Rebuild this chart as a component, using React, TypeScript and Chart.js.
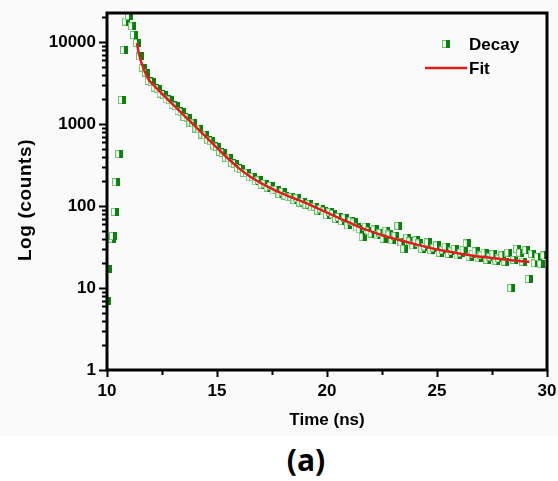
import React, { useEffect, useRef } from 'react';
import { Chart, registerables } from 'chart.js';

Chart.register(...registerables);

// ---- Data ----
const decayTime = [
  10.0, 10.05, 10.23, 10.27, 10.36, 10.41, 10.55, 10.68, 10.77, 10.86, 11.0, 11.14, 11.23, 11.36,
  11.5, 11.63, 11.77, 11.9, 12.04, 12.17, 12.31, 12.44, 12.58, 12.71, 12.85, 12.98, 13.12, 13.25,
  13.39, 13.52, 13.66, 13.79, 13.93, 14.06, 14.2, 14.33, 14.47, 14.6, 14.74, 14.87, 15.01, 15.14,
  15.28, 15.41, 15.55, 15.68, 15.82, 15.95, 16.09, 16.22, 16.36, 16.49, 16.63, 16.76, 16.9, 17.03,
  17.17, 17.3, 17.44, 17.57, 17.71, 17.84, 17.98, 18.11, 18.25, 18.38, 18.52, 18.65, 18.79, 18.92,
  19.06, 19.19, 19.33, 19.46, 19.6, 19.73, 19.87,
  20.0, 20.14, 20.27, 20.41, 20.54, 20.68, 20.81, 20.95,
  21.08, 21.22, 21.35, 21.49, 21.62, 21.76, 21.89,
  22.03, 22.16, 22.3, 22.43, 22.57, 22.7, 22.84, 22.97,
  23.11, 23.24, 23.38, 23.51, 23.65, 23.78, 23.92,
  24.05, 24.19, 24.32, 24.46, 24.59, 24.73, 24.86,
  25.0, 25.13, 25.27, 25.4, 25.54, 25.67, 25.81, 25.94,
  26.08, 26.21, 26.35, 26.48, 26.62, 26.75, 26.89,
  27.02, 27.16, 27.29, 27.43, 27.56, 27.7, 27.83, 27.97,
  28.1, 28.24, 28.37, 28.51, 28.64, 28.78, 28.91,
  29.05, 29.18, 29.32, 29.45, 29.59, 29.72, 29.86,
];

const decayCounts = [
  7, 17, 40, 43, 85, 195, 430, 1960, 7960, 17800, 20750, 15600, 12170, 9720,
  6700, 4850, 4250, 3350, 3250, 2780, 2700, 2350, 2290, 2000, 1950, 1700, 1660, 1440,
  1400, 1220, 1200, 1040, 1015, 880, 860, 745, 730, 632, 618, 537, 525, 456,
  447, 388, 381, 333, 328, 287, 285, 253, 252, 223, 226, 200, 205, 181,
  188, 168, 176, 155, 158, 139, 150, 134, 128, 129, 118, 124, 110, 113,
  104, 105, 96, 98, 88, 93, 86,
  77, 84, 80, 70, 73, 65, 72, 58,
  66, 63, 55, 52, 42, 56, 50,
  46, 52, 44, 47, 40, 50, 45, 38,
  43, 57, 36, 30, 41, 37, 33,
  38, 35, 30, 32, 36, 29, 31,
  33, 27, 29, 32, 26, 28, 30, 25,
  27, 29, 35, 24, 26, 28, 23,
  25, 27, 22, 24, 26, 21.5, 23, 25,
  21, 27, 10, 22, 30, 27, 21,
  29, 12.9, 26, 20, 24, 19.5, 25,
];

const fitTime = [
  11.36, 11.45, 11.55, 11.7, 11.9, 12.2, 12.5, 12.8, 13.2, 13.6, 14.0, 14.5, 15.0, 15.5,
  16.0, 16.5, 17.0, 17.5, 18.0, 18.5, 19.0, 19.5, 20.0, 20.5, 21.0, 21.5, 22.0, 22.5,
  23.0, 23.5, 24.0, 24.5, 25.0, 25.5, 26.0, 26.5, 27.0, 27.5, 28.0, 28.5, 29.0, 29.2,
];

const fitCounts = [
  9700, 7240, 5750, 4470, 3470, 2820, 2340, 1950, 1530, 1200, 944, 695, 513, 380,
  288, 229, 190, 162, 141, 124, 110, 95.5, 83, 72, 63, 55, 49, 44,
  40.3, 37.2, 34.3, 31.6, 29.5, 27.9, 26.3, 25.1, 24, 23.2, 22.4, 21.6, 21.1, 20.9,
];

const seriesLabels = ['Decay', 'Fit'];
const xMajorTicks = [10, 15, 20, 25, 30];
const xMinorTicks = [12.5, 17.5, 22.5, 27.5];
const yMajorTicks = [1, 10, 100, 1000, 10000];
const xRange = [10, 30];
const yRange = [1, 22600];
const xTitle = 'Time (ns)';
const yTitle = 'Log (counts)';
const panelLabel = '(a)';

const FONT = "'Liberation Sans', Arial, sans-serif";
const DARK_GREEN = '#0c7f0c';
const LIGHT_GREEN = '#6cc46c';
const RED = '#e31b1b';

function makeMarker(): HTMLCanvasElement {
  const c = document.createElement('canvas');
  c.width = 8;
  c.height = 8;
  const g = c.getContext('2d')!;
  g.fillStyle = '#f4fff4';
  g.fillRect(0, 0, 8, 8);
  g.strokeStyle = LIGHT_GREEN;
  g.lineWidth = 1;
  g.strokeRect(0.5, 0.5, 7, 7);
  g.fillStyle = DARK_GREEN;
  g.fillRect(4, 0, 4, 8);
  return c;
}

export default function App() {
  const canvasRef = useRef<HTMLCanvasElement | null>(null);

  useEffect(() => {
    if (!canvasRef.current) return;
    const marker = makeMarker();

    const decorPlugin = {
      id: 'decor',
      afterDraw(chart: any) {
        const { ctx, chartArea: a, scales } = chart;
        ctx.save();
        ctx.strokeStyle = '#000';
        ctx.lineCap = 'butt';
        // y ticks
        ctx.lineWidth = 2;
        for (const t of scales.y.ticks) {
          const py = Math.round(scales.y.getPixelForValue(t.value)) + 0.5;
          const major = yMajorTicks.includes(t.value);
          const len = major ? 8 : 5;
          ctx.beginPath();
          ctx.moveTo(a.left - len, py);
          ctx.lineTo(a.left, py);
          ctx.stroke();
        }
        // x ticks
        for (const v of [...xMajorTicks, ...xMinorTicks]) {
          const px = Math.round(scales.x.getPixelForValue(v)) + 0.5;
          const major = xMajorTicks.includes(v);
          const len = major ? 7 : 5;
          ctx.beginPath();
          ctx.moveTo(px, a.bottom);
          ctx.lineTo(px, a.bottom + len);
          ctx.stroke();
        }
        // frame
        ctx.lineWidth = 3;
        ctx.strokeRect(a.left, a.top, a.right - a.left, a.bottom - a.top);

        // y title
        ctx.fillStyle = '#000';
        ctx.font = `bold 19px ${FONT}`;
        (ctx as any).letterSpacing = '0.6px';
        ctx.translate(26, 200);
        ctx.rotate(-Math.PI / 2);
        ctx.textAlign = 'center';
        ctx.textBaseline = 'middle';
        ctx.fillText(yTitle, 0, 0);
        ctx.restore();

        // legend
        ctx.save();
        ctx.drawImage(marker, 442, 40);
        ctx.strokeStyle = RED;
        ctx.lineWidth = 2.5;
        ctx.beginPath();
        ctx.moveTo(425, 68);
        ctx.lineTo(467, 68);
        ctx.stroke();
        ctx.fillStyle = '#000';
        ctx.font = `bold 17px ${FONT}`;
        ctx.textAlign = 'left';
        ctx.textBaseline = 'middle';
        ctx.fillText(chart.data.datasets[0].label, 469, 45);
        ctx.fillText(chart.data.datasets[1].label, 469, 69);
        ctx.restore();
      },
    };

    const chart = new Chart(canvasRef.current, {
      type: 'scatter',
      data: {
        datasets: [
          {
            label: seriesLabels[0],
            data: decayTime.map((t, i) => ({ x: t, y: decayCounts[i] })),
            pointStyle: marker as any,
            pointRadius: 4,
            showLine: false,
            order: 2,
          },
          {
            label: seriesLabels[1],
            data: fitTime.map((t, i) => ({ x: t, y: fitCounts[i] })),
            showLine: true,
            borderColor: RED,
            borderWidth: 2.5,
            pointRadius: 0,
            cubicInterpolationMode: 'monotone',
            order: 1,
          } as any,
        ],
      },
      options: {
        animation: false,
        responsive: false,
        maintainAspectRatio: false,
        layout: { padding: { left: 0, right: 11, top: 13, bottom: 0 } },
        plugins: {
          legend: { display: false },
          tooltip: { enabled: false },
        },
        scales: {
          x: {
            type: 'linear',
            min: xRange[0],
            max: xRange[1],
            grid: { display: false, drawTicks: false },
            border: { display: false },
            afterBuildTicks: (scale: any) => {
              scale.ticks = [...xMajorTicks, ...xMinorTicks]
                .sort((p, q) => p - q)
                .map((v) => ({ value: v }));
            },
            afterFit: (scale: any) => {
              scale.height = 66;
              scale.paddingLeft = 0;
              scale.paddingRight = 0;
              scale.paddingTop = 0;
              scale.paddingBottom = 0;
            },
            ticks: {
              autoSkip: false,
              maxRotation: 0,
              padding: 11,
              color: '#000',
              font: { family: FONT, size: 17, weight: 'bold' },
              callback: (v: any) => (xMajorTicks.includes(Number(v)) ? String(v) : ''),
            },
            title: {
              display: true,
              text: xTitle,
              color: '#000',
              font: { family: FONT, size: 17, weight: 'bold' },
              padding: { top: 0, bottom: 5 },
            },
          },
          y: {
            type: 'logarithmic',
            min: yRange[0],
            max: yRange[1],
            grid: { display: false, drawTicks: false },
            border: { display: false },
            afterBuildTicks: (scale: any) => {
              const ticks: any[] = [];
              for (const d of yMajorTicks) {
                for (let m = 1; m <= 9; m++) {
                  const v = d * m;
                  if (v <= yRange[1]) ticks.push({ value: v });
                }
              }
              scale.ticks = ticks;
            },
            afterFit: (scale: any) => {
              scale.width = 107;
              scale.paddingLeft = 0;
              scale.paddingRight = 0;
              scale.paddingTop = 0;
              scale.paddingBottom = 0;
            },
            ticks: {
              autoSkip: false,
              padding: 11,
              color: '#000',
              font: { family: FONT, size: 17, weight: 'bold' },
              callback: (v: any) => (yMajorTicks.includes(Number(v)) ? String(v) : ''),
            },
          },
        },
      },
      plugins: [decorPlugin],
    });

    return () => chart.destroy();
  }, []);

  return (
    <div
      style={{
        position: 'absolute',
        left: 0,
        top: 0,
        width: 558,
        height: 481,
        background: '#ffffff',
      }}
    >
      <div style={{ width: 558, height: 436, background: '#fafafa' }}>
        <canvas ref={canvasRef} width={558} height={436} style={{ display: 'block', width: 558, height: 436 }} />
      </div>
      <div
        style={{
          position: 'absolute',
          left: 0,
          top: 440,
          width: 612,
          textAlign: 'center',
          fontFamily: "'Open Sans', sans-serif",
          fontWeight: 700,
          fontSize: 30,
          lineHeight: '40px',
          color: '#000',
        }}
      >
        {panelLabel}
      </div>
    </div>
  );
}
